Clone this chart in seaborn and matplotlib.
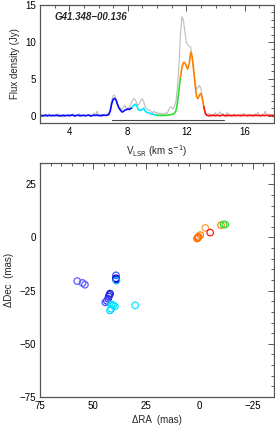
import numpy as np
import pandas as pd
import matplotlib
matplotlib.use("Agg")
import matplotlib.pyplot as plt
from matplotlib.ticker import MultipleLocator
import seaborn as sns

sns.set_theme(style="white")
plt.rcParams['font.family'] = ['Liberation Sans', 'DejaVu Sans']
plt.rcParams['axes.unicode_minus'] = True

# ---------------- spectrum data ----------------
velocity = [round(2.0 + 0.1 * i, 1) for i in range(161)]
flux_color = [
    0.05, 0.0, -0.05, 0.02, 0.08, -0.03, 0.0, 0.06, -0.04, 0.03,
    0.0, 0.07, -0.02, 0.04, -0.06, 0.02, 0.05, -0.03, 0.01, 0.06,
    -0.02, 0.04, 0.1, 0.0, -0.05, 0.03, 0.08, -0.02, 0.02, 0.0,
    0.05, -0.03, 0.02, 0.07, 0.0, -0.04, 0.03, 0.06, 0.01, 0.09,
    0.0, 0.04, -0.02, 0.05, 0.08, 0.02, 0.06, 0.15, 0.6, 1.6,
    2.2, 2.35, 2.1, 1.5, 1.0, 0.75, 0.5, 0.55, 0.75, 0.8,
    0.9, 0.85, 0.95, 1.1, 1.4, 1.55, 1.4, 0.9, 0.7, 0.75,
    0.85, 1.0, 0.6, 0.45, 0.4, 0.3, 0.25, 0.2, 0.12, 0.08,
    0.05, 0.02, 0.05, 0.0, 0.04, 0.03, 0.06, 0.05, 0.1, 0.12,
    0.15, 0.2, 0.35, 0.7, 1.8, 3.5, 5.2, 6.5, 7.2, 7.2,
    6.7, 6.3, 7.0, 8.6, 8.0, 6.3, 4.3, 2.6, 2.3, 2.8,
    3.0, 2.3, 1.2, 0.3, 0.05, 0.0,
    -0.02, 0.04, 0.0, 0.06, -0.03, 0.05, 0.02, -0.04, 0.03, 0.07,
    0.0, 0.04, -0.02, 0.05, 0.01, -0.03, 0.06, 0.02, -0.01, 0.04,
    0.03, -0.02, 0.05, 0.0, 0.07, 0.02, -0.03, 0.04, 0.01, 0.06,
    -0.02, 0.03, 0.05, 0.0, 0.04, -0.03, 0.06, 0.02, 0.0, 0.05,
    0.03, -0.01, 0.04, 0.02, 0.0,
]
flux_gray = [
    0.1, -0.1, 0.2, 0.0, -0.15, 0.1, 0.25, -0.05, 0.05, 0.15,
    -0.1, 0.05, 0.3, -0.1, 0.1, 0.0, -0.2, 0.15, 0.05, -0.05,
    0.2, -0.1, 0.05, 0.25, -0.05, 0.1, 0.0, 0.3, -0.1, 0.05,
    0.15, -0.05, 0.1, 0.0, 0.2, -0.1, 0.05, 0.35, 0.1, 0.6,
    0.1, -0.05, 0.15, 0.2, 0.0, 0.1, 0.25, 0.3, 0.9, 2.1,
    2.7, 2.8, 2.3, 1.6, 1.2, 1.0, 0.8, 1.1, 1.4, 1.0,
    1.1, 1.0, 1.5, 2.0, 2.3, 2.2, 1.8, 1.4, 1.6, 2.1,
    2.3, 1.8, 1.2, 0.9, 0.7, 0.8, 0.5, 0.4, 0.6, 0.3,
    0.5, 0.2, 0.4, 0.1, 0.3, 0.2, 0.4, 0.3, 0.8, 1.2,
    1.1, 0.9, 1.3, 2.0, 4.0, 7.0, 11.0, 13.4, 13.0, 11.5,
    10.0, 9.6, 9.4, 9.3, 8.2, 6.0, 4.5, 3.6, 3.8, 4.1,
    3.7, 2.4, 1.0, 0.4, 0.1, 0.2,
    0.3, -0.1, 0.2, 0.1, 0.4, -0.05, 0.2, 0.5, 0.0, 0.3,
    0.1, -0.2, 0.45, 0.0, 0.2, 0.1, -0.1, 0.25, 0.05, 0.15,
    0.0, 0.2, -0.1, 0.3, 0.1, -0.05, 0.2, 0.05, 0.15, -0.1,
    0.1, 0.25, 0.0, 0.45, 0.1, -0.1, 0.2, 0.0, 0.6, 0.1,
    0.05, 0.2, -0.1, 0.15, 0.0,
]
segment_edges = [2.0, 8.3, 10.0, 11.6, 13.2, 18.0]
segment_colors = ['#0a0aff', '#00e8ff', '#2ee02e', '#ff8000', '#ff1010']
vrange_line = [6.9, 14.6]
vrange_level = -0.6

# ---------------- spot map data ----------------
spot_ra = [57.5, 55.0, 53.9,
           39.3, 39.3, 39.2, 39.1,
           42.1, 42.4, 42.7, 43.0, 43.6, 44.3,
           41.3, 40.6, 39.8, 41.6, 42.1, 30.3,
           0.5, 1.2, -0.3, 0.8, -2.7, -5.0, -10.1, -11.3, -12.1]
spot_dec = [-20.5, -21.4, -22.2,
            -17.8, -19.2, -19.8, -20.2,
            -26.4, -27.0, -27.8, -28.8, -29.8, -30.5,
            -31.5, -31.9, -32.4, -33.5, -34.3, -31.9,
            0.3, -0.5, 1.1, -0.1, 4.5, 2.3, 5.8, 6.1, 6.1]
spot_color = ['#5a5aff', '#5a5aff', '#5a5aff',
              '#5050ff', '#0000dd', '#0000c8', '#00b8ff',
              '#1c1ccc', '#2020dd', '#2a2ae8', '#3030f0', '#3c3cff', '#5050ff',
              '#00e0ff', '#00e0ff', '#00e8ff', '#00e0ff', '#10d8ff', '#00e8ff',
              '#ff7000', '#ff7a00', '#ff8000', '#ff6a00', '#ffa040', '#ff1a1a',
              '#ff8a10', '#30d830', '#40e040']

frame_col = '#555555'

fig = plt.figure(figsize=(2.75, 4.28), dpi=100)
ax1 = fig.add_axes([0.1455, 0.7126, 0.851, 0.2757])
ax2 = fig.add_axes([0.1455, 0.0724, 0.851, 0.5467])

# spectrum
df = pd.DataFrame({'v': velocity, 'fc': flux_color, 'fg': flux_gray})
sns.lineplot(data=df, x='v', y='fg', ax=ax1, color='#bdbdbd', lw=0.8,
             estimator=None, sort=False)
for i, col in enumerate(segment_colors):
    lo, hi = segment_edges[i], segment_edges[i + 1]
    seg = df[(df['v'] >= lo - 1e-6) & (df['v'] <= hi + 1e-6)]
    sns.lineplot(data=seg, x='v', y='fc', ax=ax1, color=col, lw=1.2,
                 estimator=None, sort=False)
ax1.plot(vrange_line, [vrange_level, vrange_level], color='#444444', lw=0.8)
ax1.set_xlim(2, 18)
ax1.set_ylim(-1, 15)
ax1.xaxis.set_major_locator(MultipleLocator(4))
ax1.xaxis.set_minor_locator(MultipleLocator(1))
ax1.yaxis.set_major_locator(MultipleLocator(5))
ax1.yaxis.set_minor_locator(MultipleLocator(1))
ax1.set_xlabel('V$_{\\rm LSR}$ (km s$^{-1}$)', fontsize=7, labelpad=4)
ax1.set_ylabel('Flux density (Jy)', fontsize=7, labelpad=4)
ax1.text(0.064, 0.90, 'G41.348\u221200.136', transform=ax1.transAxes,
         fontsize=7, fontstyle='italic', fontweight='bold', ha='left', va='center')

# spot map
sp = pd.DataFrame({'ra': spot_ra, 'dec': spot_dec, 'c': spot_color})
sns.scatterplot(data=sp, x='ra', y='dec', hue='c', palette={c: c for c in set(spot_color)},
                ax=ax2, s=22, legend=False, linewidth=0.9)
coll = ax2.collections[0]
fcs = coll.get_facecolors()
coll.set_edgecolors(fcs)
coll.set_facecolors('none')
ax2.set_xlim(75, -35)
ax2.set_ylim(-75, 35)
ax2.set_aspect('equal', adjustable='box')
ax2.xaxis.set_major_locator(MultipleLocator(25))
ax2.xaxis.set_minor_locator(MultipleLocator(5))
ax2.yaxis.set_major_locator(MultipleLocator(25))
ax2.yaxis.set_minor_locator(MultipleLocator(5))
ax2.set_xlabel('\u0394RA  (mas)', fontsize=7, labelpad=3)
ax2.set_ylabel('\u0394Dec  (mas)', fontsize=7, labelpad=4)

for ax in (ax1, ax2):
    for s in ax.spines.values():
        s.set_color(frame_col)
        s.set_linewidth(0.9)
        s.set_visible(True)
    ax.tick_params(which='both', direction='in', top=True, right=True,
                   colors=frame_col, labelcolor='black', labelsize=7, width=0.7)
    ax.tick_params(which='major', length=4, pad=3)
    ax.tick_params(which='minor', length=2.2)
    ax.set_facecolor('white')

fig.savefig('out.png', dpi=100)
